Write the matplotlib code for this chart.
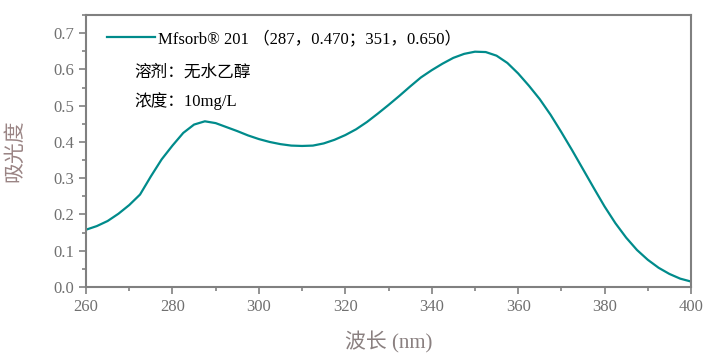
import numpy as np
import matplotlib
matplotlib.use("Agg")
import matplotlib.pyplot as plt
from matplotlib.ticker import MultipleLocator

plt.rcParams['font.family'] = ['Liberation Serif', 'Noto Sans CJK SC', 'DejaVu Sans']

# absorbance spectrum
wavelength = [260, 262.5, 265, 267.5, 270, 272.5, 275, 277.5, 280, 282.5,
              285, 287.5, 290, 292.5, 295, 297.5, 300, 302.5, 305, 307.5,
              310, 312.5, 315, 317.5, 320, 322.5, 325, 327.5, 330, 332.5,
              335, 337.5, 340, 342.5, 345, 347.5, 350, 352.5, 355, 357.5,
              360, 362.5, 365, 367.5, 370, 372.5, 375, 377.5, 380, 382.5,
              385, 387.5, 390, 392.5, 395, 397.5, 400]
absorbance = [0.158, 0.168, 0.182, 0.202, 0.226, 0.255, 0.305, 0.352, 0.390, 0.425,
              0.448, 0.457, 0.452, 0.441, 0.430, 0.418, 0.408, 0.400, 0.394, 0.390,
              0.389, 0.390, 0.396, 0.406, 0.419, 0.435, 0.455, 0.478, 0.502, 0.527,
              0.553, 0.578, 0.598, 0.616, 0.632, 0.643, 0.649, 0.648, 0.638, 0.618,
              0.589, 0.555, 0.518, 0.475, 0.427, 0.377, 0.325, 0.273, 0.222, 0.176,
              0.136, 0.102, 0.075, 0.053, 0.036, 0.023, 0.015]

series_label = "Mfsorb® 201 （287，0.470；351，0.650）"
notes = ["溶剂：无水乙醇", "浓度：10mg/L"]

fig = plt.figure(figsize=(7.08, 3.59), dpi=100)
ax = fig.add_axes([0.1215, 0.2006, 0.8545, 0.7574])

ax.plot(wavelength, absorbance, color='#008b8b', lw=1.6, label=series_label)

ax.set_xlim(260, 400)
ax.set_ylim(0, 0.75)
ax.xaxis.set_major_locator(MultipleLocator(20))
ax.xaxis.set_minor_locator(MultipleLocator(10))
ax.yaxis.set_major_locator(MultipleLocator(0.1))
ax.yaxis.set_minor_locator(MultipleLocator(0.05))
ax.yaxis.set_major_formatter(matplotlib.ticker.FormatStrFormatter('%.1f'))

gray = '#808080'
for s in ax.spines.values():
    s.set_color(gray)
    s.set_linewidth(1.5)
ax.tick_params(which='both', direction='out', color=gray, width=1.2,
               labelcolor='#707070', labelsize=12)
ax.tick_params(which='major', length=5)
ax.tick_params(which='minor', length=3)

ax.set_xlabel("波长 (nm)", fontsize=15, color='#8a8080', labelpad=12)
ax.set_ylabel("吸光度", fontsize=15, color='#9a8484', labelpad=20)

leg = ax.legend(loc='upper left', bbox_to_anchor=(0.01, 1.0), frameon=False,
                fontsize=12, handlelength=2.9, handletextpad=0.15)
for i, t in enumerate(notes):
    ax.text(0.08, 0.79 - i * 0.105, t, transform=ax.transAxes,
            fontsize=12, va='center', ha='left')

fig.savefig("out.png", dpi=100)
